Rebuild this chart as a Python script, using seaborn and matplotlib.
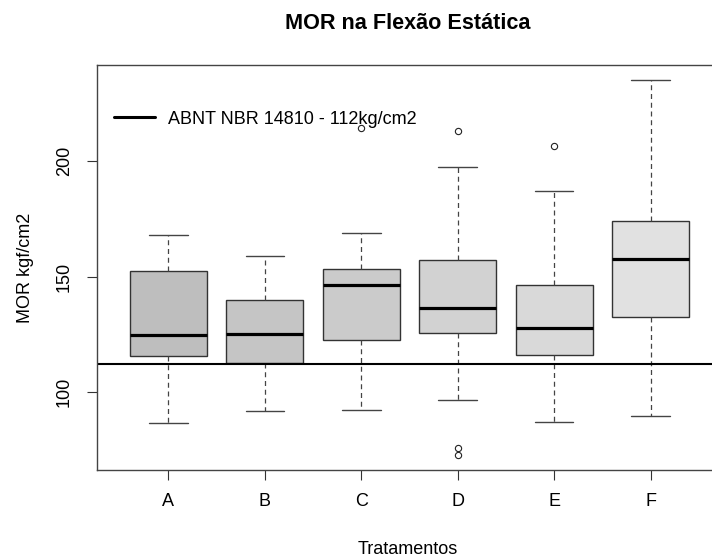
import matplotlib
matplotlib.use("Agg")
import matplotlib.pyplot as plt
from matplotlib.lines import Line2D
import seaborn as sns

# valores (resumo de cinco numeros por tratamento)
tratamentos = ["A", "B", "C", "D", "E", "F"]
whis_low = [86.7, 91.6, 92.1, 96.5, 87.1, 89.6]
q1 = [115.7, 112.4, 122.5, 125.5, 116.2, 132.5]
mediana = [124.5, 125.0, 146.2, 136.4, 127.6, 157.6]
q3 = [152.3, 140.0, 153.1, 157.1, 146.2, 173.9]
whis_high = [168.1, 159.0, 168.8, 197.4, 187.2, 235.1]
outliers = [[], [], [214.3], [213.0, 75.8, 72.7], [206.5], []]
cores = ["#bebebe", "#c5c5c5", "#cbcbcb", "#d2d2d2", "#d9d9d9", "#e1e1e1"]
norma = 112

sns.set_theme(style="white")
plt.rcParams['font.family'] = ['Liberation Sans', 'DejaVu Sans']
plt.rcParams['text.color'] = 'black'
plt.rcParams['axes.labelcolor'] = 'black'

fig = plt.figure(figsize=(7.12, 5.58), dpi=100)
ax = fig.add_axes([97 / 712, 1 - 470 / 558, 625 / 712, 405 / 558])

stats = []
for i, t in enumerate(tratamentos):
    stats.append({'label': t, 'whislo': whis_low[i], 'q1': q1[i], 'med': mediana[i],
                  'q3': q3[i], 'whishi': whis_high[i], 'fliers': outliers[i]})

pos = list(range(1, len(tratamentos) + 1))
bp = ax.bxp(stats, positions=pos, widths=0.8, capwidths=0.4, patch_artist=True,
            boxprops=dict(edgecolor='#333333', linewidth=1.0),
            medianprops=dict(color='black', linewidth=2.3, solid_capstyle='butt'),
            whiskerprops=dict(color='#444444', linewidth=0.9, linestyle=(0, (4, 3))),
            capprops=dict(color='#444444', linewidth=1.0),
            flierprops=dict(marker='o', markersize=4.5, markerfacecolor='none',
                            markeredgecolor='#222222', markeredgewidth=0.8))
for patch, c in zip(bp['boxes'], cores):
    patch.set_facecolor(c)

ax.axhline(norma, color='black', linewidth=1.5)

ax.set_xlim(0.26, 6.74)
ax.set_ylim(66.2, 241.6)
ax.set_xticks(pos)
ax.set_xticklabels(tratamentos)
ax.set_yticks([100, 150, 200])
ax.set_yticklabels(['100', '150', '200'], rotation=90, va='center')
ax.tick_params(axis='both', direction='out', length=7.5, width=0.8, color='#333333',
               labelsize=13, labelcolor='black')
ax.tick_params(axis='x', pad=9)
ax.tick_params(axis='y', pad=10)
ax.tick_params(left=True, bottom=True)
for s in ax.spines.values():
    s.set_color('#444444')
    s.set_linewidth(1.0)
    s.set_visible(True)

leg_handle = Line2D([], [], color='black', linewidth=2.2)
leg = ax.legend([leg_handle], ['ABNT NBR 14810 - 112kg/cm2'], loc='center left',
                bbox_to_anchor=(17 / 625, 351 / 405), frameon=False, fontsize=13,
                borderpad=0, borderaxespad=0, handlelength=2.25, handletextpad=0.75)
for txt in leg.get_texts():
    txt.set_color('black')

fig.text(408 / 712, 1 - 29 / 558, 'MOR na Flexão Estática', ha='center', va='baseline',
         fontsize=15.6, fontweight='bold', color='black')
fig.text(408 / 712, 1 - 554 / 558, 'Tratamentos', ha='center', va='baseline',
         fontsize=13, color='black')
fig.text(25 / 712, 1 - 267.5 / 558, 'MOR kgf/cm2', ha='center', va='center',
         rotation=90, fontsize=13, color='black')

fig.savefig('out.png', dpi=100)
